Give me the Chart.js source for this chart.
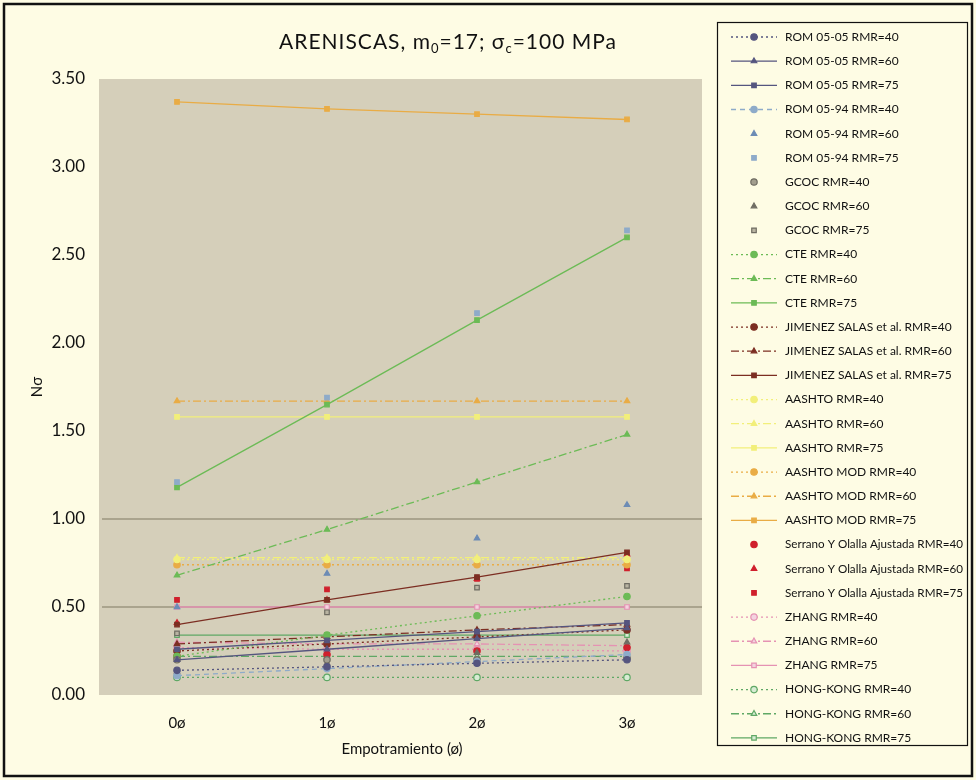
<!DOCTYPE html>
<html>
<head>
<meta charset="utf-8">
<script src="https://cdn.jsdelivr.net/npm/chart.js@4/dist/chart.umd.min.js"></script>
<style>
    html, body { margin: 0; padding: 0; background: #fefce4; }
    #wrap { width: 976px; height: 780px; }
</style>
</head>
<body>
<div id="wrap"><canvas id="chart" width="976" height="780"></canvas></div>
<script>
// Categories (embedment depth)
const labels = ['0ø', '1ø', '2ø', '3ø'];

// Nσ values per method and RMR
const rom0505_40 = [0.14, 0.16, 0.18, 0.20];
const rom0505_60 = [0.20, 0.26, 0.32, 0.38];
const rom0505_75 = [0.26, 0.31, 0.36, 0.41];
const rom0594_40 = [0.11, 0.15, 0.19, 0.23];
const rom0594_60 = [0.50, 0.69, 0.89, 1.08];
const rom0594_75 = [1.21, 1.69, 2.17, 2.64];
const gcoc_40 = [0.20, 0.20, 0.20, 0.21];
const gcoc_60 = [0.13, 0.18, 0.24, 0.30];
const gcoc_75 = [0.35, 0.47, 0.61, 0.62];
const cte_40 = [0.22, 0.34, 0.45, 0.56];
const cte_60 = [0.68, 0.94, 1.21, 1.48];
const cte_75 = [1.18, 1.65, 2.13, 2.60];
const js_40 = [0.25, 0.29, 0.33, 0.37];
const js_60 = [0.29, 0.33, 0.37, 0.40];
const js_75 = [0.40, 0.54, 0.67, 0.81];
const aashto_40 = [0.77, 0.77, 0.77, 0.77];
const aashto_60 = [0.78, 0.78, 0.78, 0.78];
const aashto_75 = [1.58, 1.58, 1.58, 1.58];
const aashtoMod_40 = [0.74, 0.74, 0.74, 0.74];
const aashtoMod_60 = [1.67, 1.67, 1.67, 1.67];
const aashtoMod_75 = [3.37, 3.33, 3.30, 3.27];
const serrano_40 = [0.22, 0.23, 0.25, 0.27];
const serrano_60 = [0.41, 0.54, 0.66, 0.80];
const serrano_75 = [0.54, 0.60, 0.66, 0.72];
const zhang_40 = [0.27, 0.26, 0.26, 0.25];
const zhang_60 = [0.30, 0.29, 0.29, 0.28];
const zhang_75 = [0.50, 0.50, 0.50, 0.50];
const hk_40 = [0.10, 0.10, 0.10, 0.10];
const hk_60 = [0.22, 0.22, 0.22, 0.22];
const hk_75 = [0.34, 0.34, 0.34, 0.34];

// Y ticks
const yMin = 0;
const yMax = 3.5;
const yStep = 0.5;

const FONT = 'Lato, "DejaVu Sans", sans-serif';

const DOT = [2, 3];
const DASHDOT = [8, 3, 2, 3];
const DASH = [5, 4];

// Build one dataset
function series(label, data, color, pointStyle, dash, showLine, fill) {
    return {
        label: label,
        data: data,
        borderColor: color,
        backgroundColor: fill || color,
        pointBorderColor: color,
        pointBackgroundColor: fill || color,
        pointStyle: pointStyle,
        pointRadius: 3.2,
        pointBorderWidth: 1.2,
        borderWidth: 1.3,
        borderDash: dash || [],
        showLine: showLine !== false,
        tension: 0
    };
}

const navy = '#55557f';
const lightBlue = '#8eabc9';
const blue = '#6d8cb5';
const gray = '#6f6c62';
const green = '#6cbb56';
const brown = '#7c2e22';
const yellow = '#f2ef7a';
const orange = '#e9ac45';
const red = '#d0202c';
const pink = '#e592b3';
const hkGreen = '#5fa865';

const datasets = [
    series('ROM 05-05 RMR=40', rom0505_40, navy, 'circle', DOT),
    series('ROM 05-05 RMR=60', rom0505_60, navy, 'triangle', [], true),
    series('ROM 05-05 RMR=75', rom0505_75, navy, 'rect', []),
    series('ROM 05-94 RMR=40', rom0594_40, lightBlue, 'circle', DASH),
    series('ROM 05-94 RMR=60', rom0594_60, blue, 'triangle', [], false),
    series('ROM 05-94 RMR=75', rom0594_75, lightBlue, 'rect', [], false),
    series('GCOC RMR=40', gcoc_40, gray, 'circle', [], false, '#a29e8e'),
    series('GCOC RMR=60', gcoc_60, gray, 'triangle', [], false),
    series('GCOC RMR=75', gcoc_75, gray, 'rect', [], false, '#b9b4a2'),
    series('CTE RMR=40', cte_40, green, 'circle', DOT),
    series('CTE RMR=60', cte_60, green, 'triangle', DASHDOT),
    series('CTE RMR=75', cte_75, green, 'rect', []),
    series('JIMENEZ SALAS et al. RMR=40', js_40, brown, 'circle', DOT),
    series('JIMENEZ SALAS et al. RMR=60', js_60, brown, 'triangle', DASHDOT),
    series('JIMENEZ SALAS et al. RMR=75', js_75, brown, 'rect', []),
    series('AASHTO RMR=40', aashto_40, yellow, 'circle', DOT),
    series('AASHTO RMR=60', aashto_60, yellow, 'triangle', DASHDOT),
    series('AASHTO RMR=75', aashto_75, yellow, 'rect', []),
    series('AASHTO MOD RMR=40', aashtoMod_40, orange, 'circle', DOT),
    series('AASHTO MOD RMR=60', aashtoMod_60, orange, 'triangle', DASHDOT),
    series('AASHTO MOD RMR=75', aashtoMod_75, orange, 'rect', []),
    series('Serrano Y Olalla Ajustada RMR=40', serrano_40, red, 'circle', [], false),
    series('Serrano Y Olalla Ajustada RMR=60', serrano_60, red, 'triangle', [], false),
    series('Serrano Y Olalla Ajustada RMR=75', serrano_75, red, 'rect', [], false),
    series('ZHANG RMR=40', zhang_40, pink, 'circle', DOT, true, '#f3d3df'),
    series('ZHANG RMR=60', zhang_60, pink, 'triangle', DASHDOT, true, '#f3d3df'),
    series('ZHANG RMR=75', zhang_75, pink, 'rect', [], true, '#f3d3df'),
    series('HONG-KONG RMR=40', hk_40, hkGreen, 'circle', DOT, true, '#d8ecd4'),
    series('HONG-KONG RMR=60', hk_60, hkGreen, 'triangle', DASHDOT, true, '#d8ecd4'),
    series('HONG-KONG RMR=75', hk_75, hkGreen, 'rect', [], true, '#d8ecd4')
];

// Page frame, plot background, title with subscripts, boxed legend
const decorations = {
    id: 'decorations',
    beforeDraw(chart) {
        const ctx = chart.ctx;
        const a = chart.chartArea;
        ctx.save();
        ctx.fillStyle = '#fefce4';
        ctx.fillRect(0, 0, chart.width, chart.height);
        ctx.fillStyle = '#d5cfba';
        ctx.fillRect(a.left - 3, a.top, a.right - a.left + 3, a.bottom - a.top);
        ctx.strokeStyle = '#111';
        ctx.lineWidth = 2.5;
        ctx.strokeRect(4, 4, 968, 772);
        ctx.restore();
    },
    afterDraw(chart) {
        const ctx = chart.ctx;
        ctx.save();

        // title
        const parts = [
            ['ARENISCAS, m', false], ['0', true], ['=17; σ', false], ['c', true], ['=100 MPa', false]
        ];
        const big = '21px ' + FONT;
        const small = '13px ' + FONT;
        ctx.letterSpacing = '1px';
        let total = 0;
        parts.forEach(p => { ctx.font = p[1] ? small : big; total += ctx.measureText(p[0]).width; });
        let x = 448 - total / 2;
        ctx.fillStyle = '#111';
        ctx.textBaseline = 'alphabetic';
        parts.forEach(p => {
            ctx.font = p[1] ? small : big;
            ctx.fillText(p[0], x, p[1] ? 53 : 49);
            x += ctx.measureText(p[0]).width;
        });
        ctx.letterSpacing = '0px';

        // legend box
        const lx = 717, ly = 22, lw = 250, lh = 723;
        ctx.fillStyle = '#fefce4';
        ctx.fillRect(lx, ly, lw, lh);
        ctx.strokeStyle = '#111';
        ctx.lineWidth = 1.2;
        ctx.strokeRect(lx + 0.5, ly + 0.5, lw, lh);

        ctx.font = '12px ' + FONT;
        ctx.textBaseline = 'middle';
        chart.data.datasets.forEach((ds, i) => {
            const y = 37 + i * 24.17;
            if (ds.showLine) {
                ctx.strokeStyle = ds.borderColor;
                ctx.lineWidth = 1.3;
                ctx.setLineDash(ds.borderDash);
                ctx.beginPath();
                ctx.moveTo(731, y);
                ctx.lineTo(777, y);
                ctx.stroke();
                ctx.setLineDash([]);
            }
            ctx.fillStyle = ds.pointBackgroundColor;
            ctx.strokeStyle = ds.pointBorderColor;
            ctx.lineWidth = 1.2;
            Chart.helpers.drawPoint(ctx, { pointStyle: ds.pointStyle, radius: 3.2, rotation: 0, borderWidth: 1.2 }, 754, y);
            ctx.fillStyle = '#111';
            ctx.fillText(ds.label, 785, y, 178);
        });
        ctx.restore();
    }
};

new Chart(document.getElementById('chart'), {
    type: 'line',
    data: { labels: labels, datasets: datasets },
    options: {
        responsive: false,
        animation: false,
        layout: { padding: { top: 79, right: 274, left: 28, bottom: 18 } },
        plugins: {
            legend: { display: false },
            title: { display: false },
            tooltip: { enabled: false }
        },
        scales: {
            x: {
                offset: true,
                afterFit(scale) { scale.height = 67; },
                grid: { display: false, drawTicks: false },
                border: { display: false },
                ticks: { color: '#111', font: { family: FONT, size: 15 }, padding: 19 },
                title: {
                    display: true,
                    text: 'Empotramiento (ø)',
                    color: '#111',
                    font: { family: FONT, size: 15 },
                    padding: { top: 4, bottom: 4 }
                }
            },
            y: {
                min: yMin,
                max: yMax,
                afterFit(scale) { scale.width = 74; },
                grid: {
                    drawTicks: false,
                    lineWidth: 2,
                    color: (c) => (c.tick && (c.tick.value === 0.5 || c.tick.value === 1)) ? 'rgba(165,159,138,0.9)' : 'rgba(0,0,0,0)'
                },
                border: { display: false },
                ticks: {
                    stepSize: yStep,
                    color: '#111',
                    font: { family: FONT, size: 17 },
                    padding: 17,
                    callback: (v) => v.toFixed(2)
                },
                title: {
                    display: true,
                    text: 'Nσ',
                    color: '#111',
                    font: { family: FONT, size: 15 },
                    padding: { top: 0, bottom: 0 }
                }
            }
        }
    },
    plugins: [decorations]
});
</script>
</body>
</html>
